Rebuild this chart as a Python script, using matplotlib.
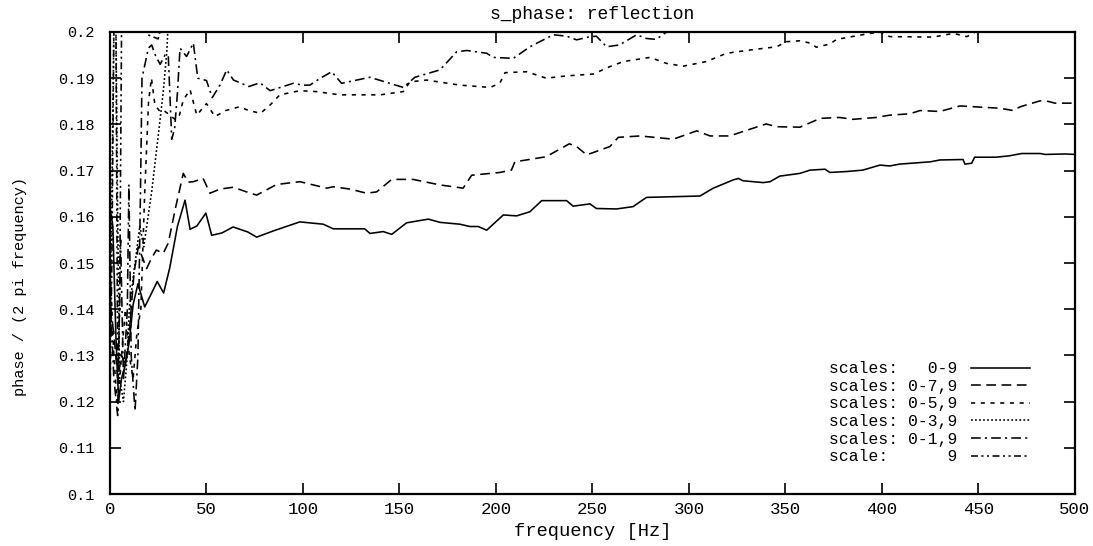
import numpy as np
import matplotlib
matplotlib.use("Agg")
import matplotlib.pyplot as plt
from matplotlib.ticker import FuncFormatter

# ---- data: frequency [Hz] and phase / (2 pi frequency) for each scale set ----
f_0_9 = [0, 1.5, 3, 4.5, 6, 8, 10, 12, 14.5, 18, 21, 24.5, 27.8, 31, 35, 38.9, 41.5, 45, 49.7,
         52.7, 58, 63.8, 71.5, 76, 85, 98.4, 110.5, 115.7, 132, 134.7, 141.6, 146, 153.7, 165,
         171, 181.3, 186.5, 190.8, 195.2, 203.8, 210.7, 217.6, 223.7, 236.6, 240, 248.7, 252,
         262.5, 271, 278, 305.7, 312.6, 323, 325.6, 328, 338.5, 342, 347, 357.5, 362.7, 370.5,
         373, 381.7, 390, 399, 404, 409, 425, 430, 442, 443, 446.5, 448, 459, 466, 472.4, 482,
         484.5, 495, 500]
v_0_9 = [0.162, 0.158, 0.135, 0.120, 0.125, 0.128, 0.133, 0.141, 0.1455, 0.1405, 0.143, 0.146,
         0.1435, 0.149, 0.158, 0.1636, 0.1573, 0.158, 0.1608, 0.156, 0.1565, 0.1578, 0.1567,
         0.1556, 0.157, 0.1589, 0.1584, 0.1574, 0.1574, 0.1564, 0.1568, 0.1562, 0.1587, 0.1595,
         0.1588, 0.1584, 0.1579, 0.1579, 0.1571, 0.1604, 0.1602, 0.1611, 0.1635, 0.1635, 0.1623,
         0.1628, 0.1618, 0.1617, 0.1622, 0.1642, 0.1645, 0.1662, 0.168, 0.1683, 0.1678, 0.1674,
         0.1676, 0.1688, 0.1694, 0.1701, 0.1703, 0.1696, 0.1698, 0.1701, 0.1712, 0.171, 0.1714,
         0.1719, 0.1723, 0.1724, 0.1714, 0.1716, 0.1729, 0.1729, 0.1732, 0.1737, 0.1737,
         0.1735, 0.1736, 0.1735]

f_0_7_9 = [0, 2, 4, 6, 8, 10, 12.5, 14.7, 17, 19, 21.5, 24, 27.6, 30.2, 34, 38, 40.5, 43.2,
           48.3, 51.8, 57, 63.9, 70, 76, 86.4, 98.4, 112.3, 115.7, 124.4, 133, 138.2, 146, 157,
           171, 183, 187.4, 202, 208, 209.8, 226, 238, 241.8, 247, 259, 263.4, 274.6, 291.9,
           304, 310.9, 321, 340, 345.4, 357.5, 368, 378, 385, 397, 404, 414.5, 419.7, 430,
           440.4, 461, 468, 471.5, 481.9, 486, 489.6, 500]
v_0_7_9 = [0.140, 0.135, 0.125, 0.130, 0.128, 0.135, 0.148, 0.1535, 0.151, 0.1488, 0.151,
           0.1528, 0.1521, 0.1543, 0.162, 0.1694, 0.1675, 0.1676, 0.1683, 0.1651, 0.166,
           0.1664, 0.1655, 0.1647, 0.167, 0.1676, 0.1662, 0.1665, 0.166, 0.1651, 0.1654,
           0.1681, 0.1681, 0.1669, 0.1662, 0.169, 0.1696, 0.1701, 0.1719, 0.173, 0.1758,
           0.1752, 0.1734, 0.1752, 0.1772, 0.1775, 0.1768, 0.1786, 0.1775, 0.1775, 0.1801,
           0.1795, 0.1794, 0.1813, 0.1815, 0.1811, 0.1815, 0.182, 0.1823, 0.183, 0.1828,
           0.184, 0.1835, 0.183, 0.1838, 0.1851, 0.185, 0.1846, 0.1846]

f_0_5_9 = [0, 2, 4, 6, 8, 10, 12, 14, 16, 18, 20, 21.5, 23.3, 25.9, 28, 31, 34, 36, 38, 41.5,
           45, 50, 54.4, 60, 67, 72, 78, 83, 88, 98.4, 107, 119, 140, 152, 155.4, 164, 181.3,
           197, 202, 204.7, 216, 226, 236.6, 250.4, 259, 266, 279.8, 288.4, 297, 309, 319.5,
           331.6, 345.4, 350.6, 357.5, 362.7, 366, 373, 376.5, 393.8, 399, 404, 426.6, 437, 444,
           452, 460, 500]
v_0_5_9 = [0.150, 0.130, 0.118, 0.130, 0.140, 0.130, 0.125, 0.135, 0.140, 0.165, 0.185, 0.190,
           0.1842, 0.1828, 0.183, 0.182, 0.181, 0.182, 0.1853, 0.1875, 0.182, 0.1845, 0.1817,
           0.183, 0.1838, 0.183, 0.1824, 0.1842, 0.1864, 0.1873, 0.1871, 0.1864, 0.1864,
           0.1871, 0.1892, 0.1896, 0.1885, 0.188, 0.1889, 0.1912, 0.1914, 0.190, 0.1905,
           0.1909, 0.1925, 0.1936, 0.1945, 0.1932, 0.1926, 0.1936, 0.1954, 0.1961, 0.1968,
           0.1979, 0.1981, 0.1976, 0.1967, 0.1974, 0.1984, 0.1997, 0.2, 0.199, 0.1989, 0.1997,
           0.199, 0.2008, 0.2025, 0.204]

f_0_3_9 = [0, 1, 2, 3, 4, 5, 7, 9, 10, 13, 15.5, 17.5, 21.6, 25, 27.6, 29.5, 30.5, 32]
v_0_3_9 = [0.140, 0.165, 0.200, 0.205, 0.160, 0.125, 0.120, 0.130, 0.140, 0.150, 0.158, 0.1535,
           0.1654, 0.1775, 0.187, 0.196, 0.205, 0.215]

f_0_1_9 = [0, 2, 4, 5.5, 7, 9, 9.8, 11, 13, 14.5, 15.8, 16.6, 19.9, 21.6, 23.5, 26, 28.5,
           30.2, 31.2, 32, 33.5, 35, 36.3, 39.7, 43.2, 45.5, 50, 53, 57, 60.5, 64, 72, 77.7,
           83, 95, 100, 103.6, 109, 114.9, 120, 134.7, 142.5, 152, 158, 171, 179.6, 184.8,
           195.2, 198.6, 209, 217.6, 229.7, 236.6, 241.8, 247.8, 252, 257.3, 264, 272.9, 278,
           283, 288.4, 293, 300]
v_0_1_9 = [0.145, 0.125, 0.117, 0.155, 0.125, 0.140, 0.167, 0.130, 0.118, 0.130, 0.165, 0.190,
           0.1965, 0.1972, 0.195, 0.193, 0.195, 0.195, 0.185, 0.1768, 0.179, 0.187, 0.1965,
           0.1947, 0.1976, 0.190, 0.1895, 0.1858, 0.1885, 0.1918, 0.1896, 0.1882, 0.189,
           0.1873, 0.1889, 0.1885, 0.1885, 0.190, 0.1914, 0.1889, 0.1902, 0.1892, 0.188,
           0.1902, 0.1918, 0.1957, 0.196, 0.1954, 0.1945, 0.1943, 0.1968, 0.1994, 0.1991,
           0.1983, 0.1989, 0.1991, 0.1968, 0.1972, 0.1994, 0.1986, 0.1984, 0.2, 0.2015, 0.203]

f_9 = [0, 1, 2, 3, 4, 5, 6, 8, 12, 17, 19, 22, 25, 27, 30]
v_9 = [0.120, 0.150, 0.200, 0.210, 0.125, 0.140, 0.200, 0.215, 0.220, 0.205, 0.1995, 0.199,
       0.1985, 0.202, 0.210]

labels = ["scales:   0-9", "scales: 0-7,9", "scales: 0-5,9",
          "scales: 0-3,9", "scales: 0-1,9", "scale:      9"]
x_ticks = list(range(0, 501, 50))
y_ticks = [0.1, 0.11, 0.12, 0.13, 0.14, 0.15, 0.16, 0.17, 0.18, 0.19, 0.2]

# ---- styling ----
FONT = "Liberation Mono"
plt.rcParams["font.family"] = FONT
plt.rcParams["lines.scale_dashes"] = False

styles = [
    dict(linestyle="-"),
    dict(linestyle=(0, (7, 4))),
    dict(linestyle=(0, (3, 4))),
    dict(linestyle=(0, (1.3, 1.6))),
    dict(linestyle=(0, (7, 3, 1.5, 3))),
    dict(linestyle=(0, (5, 2.5, 1.5, 2.5, 1.5, 2.5))),
]

series = [(f_0_9, v_0_9), (f_0_7_9, v_0_7_9), (f_0_5_9, v_0_5_9),
          (f_0_3_9, v_0_3_9), (f_0_1_9, v_0_1_9), (f_9, v_9)]

fig = plt.figure(figsize=(10.93, 5.46), dpi=100)
ax = fig.add_axes([0.1006, 0.0952, 0.8829, 0.8462])

for (fx, vy), lab, st in zip(series, labels, styles):
    ax.plot(fx, vy, color="black", linewidth=1.15, label=lab, **st)

ax.set_xlim(0, 500)
ax.set_ylim(0.1, 0.2)
ax.set_xticks(x_ticks)
ax.set_yticks(y_ticks)
ax.yaxis.set_major_formatter(FuncFormatter(lambda v, p: "%g" % round(v, 3)))
ax.tick_params(direction="in", length=8, width=1.2, top=True, right=True)
ax.tick_params(axis="x", labelsize=12.5, pad=6)
ax.tick_params(axis="y", labelsize=11, pad=11)
for sp in ax.spines.values():
    sp.set_linewidth(1.6)

ax.set_title("s_phase: reflection", fontsize=13, pad=9.5)
ax.set_xlabel("frequency [Hz]", fontsize=13.5, labelpad=0)
ax.xaxis.set_label_coords(0.5, -0.063)
ax.set_ylabel("phase / (2 pi frequency)", fontsize=11)
ax.yaxis.set_label_coords(-0.086, 0.45)

leg = ax.legend(loc="lower right", bbox_to_anchor=(0.960, 0.05), frameon=False,
                markerfirst=False, fontsize=11.8, handlelength=3.6, handletextpad=0.8,
                labelspacing=0.16, borderaxespad=0)

fig.savefig("out.png", dpi=100)
